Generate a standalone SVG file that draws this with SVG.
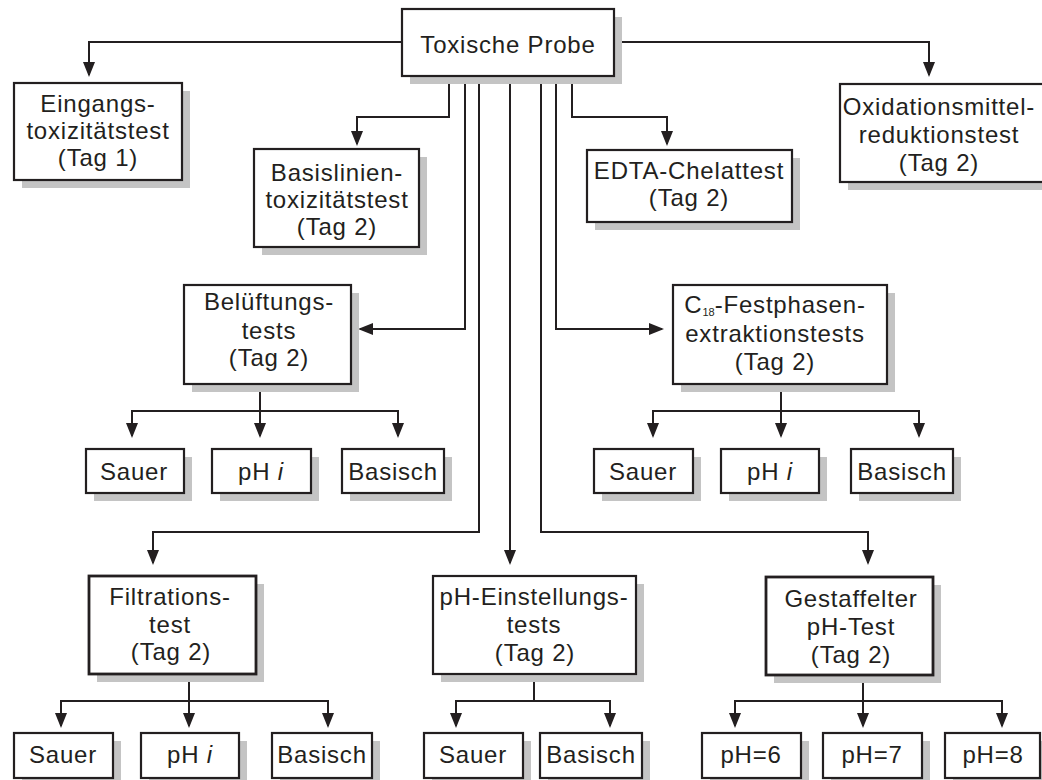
<svg xmlns="http://www.w3.org/2000/svg" width="1042" height="780" viewBox="0 0 1042 780">
<defs>
<marker id="ah" viewBox="0 0 15 12" refX="13" refY="6" markerWidth="15" markerHeight="12" markerUnits="userSpaceOnUse" orient="auto">
<path d="M0,0 L15,6 L0,12 z" fill="#231f20"/>
</marker>
</defs>
<style>
.sh{fill:#c4c4c4;stroke:none}
.bx{fill:#ffffff;stroke:#231f20;stroke-width:2.2}
.bt{stroke-width:2.8}
text{font-family:"Liberation Sans",Arial,sans-serif;font-size:24px;letter-spacing:0.8px;fill:#231f20;text-anchor:middle}
.sub{font-size:11px;letter-spacing:0}
.ln{fill:none;stroke:#231f20;stroke-width:2}
.ar{marker-end:url(#ah)}
</style>
<rect width="1042" height="780" fill="#ffffff"/>

<g id="connectors">
<path class="ln ar" d="M402,42 H89 V75"/>
<path class="ln ar" d="M614,42 H929 V75"/>
<path class="ln ar" d="M449,76 V117 H357 V144"/>
<path class="ln ar" d="M572,76 V117 H667 V144"/>
<path class="ln ar" d="M465,76 V329 H360"/>
<path class="ln ar" d="M556,76 V329 H662"/>
<path class="ln ar" d="M479,76 V532 H153 V563"/>
<path class="ln ar" d="M510,76 V563"/>
<path class="ln ar" d="M541,76 V532 H868 V563"/>
<path class="ln ar" d="M260,384 V436"/>
<path class="ln ar" d="M260,411 H132 V436"/>
<path class="ln ar" d="M260,411 H398 V436"/>
<path class="ln ar" d="M781,384 V436"/>
<path class="ln ar" d="M781,411 H653 V436"/>
<path class="ln ar" d="M781,411 H919 V436"/>
<path class="ln ar" d="M189,674 V726"/>
<path class="ln ar" d="M189,701 H61 V726"/>
<path class="ln ar" d="M189,701 H328 V726"/>
<path class="ln" d="M534,674 V701"/>
<path class="ln ar" d="M534,701 H456 V726"/>
<path class="ln ar" d="M534,701 H610 V726"/>
<path class="ln ar" d="M863,675 V726"/>
<path class="ln ar" d="M863,701 H735 V726"/>
<path class="ln ar" d="M863,701 H1002 V726"/>
</g>

<g id="toxische">
<rect class="sh" x="410" y="17" width="212" height="67"/>
<rect class="bx" x="402" y="9" width="212" height="67"/>
<text x="508" y="53">Toxische Probe</text>
</g>

<g id="eingangs">
<rect class="sh" x="22" y="91" width="168" height="97"/>
<rect class="bx" x="14" y="83" width="168" height="97"/>
<text x="98" y="112">Eingangs-</text>
<text x="98" y="139">toxizitätstest</text>
<text x="98" y="166">(Tag 1)</text>
</g>

<g id="basislinien">
<rect class="sh" x="262" y="157" width="165" height="98"/>
<rect class="bx" x="254" y="149" width="165" height="98"/>
<text x="337" y="181">Basislinien-</text>
<text x="337" y="208">toxizitätstest</text>
<text x="337" y="235">(Tag 2)</text>
</g>

<g id="edta">
<rect class="sh" x="595" y="158" width="205" height="72"/>
<rect class="bx" x="587" y="150" width="205" height="72"/>
<text x="689" y="179">EDTA-Chelattest</text>
<text x="689" y="206">(Tag 2)</text>
</g>

<g id="oxidation">
<rect class="sh" x="848" y="92" width="210" height="98"/>
<rect class="bx" x="840" y="84" width="210" height="98"/>
<text x="939" y="115">Oxidationsmittel-</text>
<text x="939" y="143">reduktionstest</text>
<text x="939" y="171">(Tag 2)</text>
</g>

<g id="belueftung">
<rect class="sh" x="192" y="293" width="167" height="99"/>
<rect class="bx" x="184" y="285" width="167" height="99"/>
<text x="269" y="310">Belüftungs-</text>
<text x="269" y="339">tests</text>
<text x="269" y="366">(Tag 2)</text>
</g>

<g id="c18">
<rect class="sh" x="681" y="293" width="214" height="99"/>
<rect class="bx" x="673" y="285" width="214" height="99"/>
<text x="775" y="313">C<tspan class="sub" dy="3">18</tspan><tspan dy="-3">-Festphasen-</tspan></text>
<text x="775" y="342">extraktionstests</text>
<text x="775" y="370">(Tag 2)</text>
</g>

<g id="bel-sauer">
<rect class="sh" x="94" y="457" width="98" height="44"/>
<rect class="bx" x="86" y="449" width="98" height="44"/>
<text x="134" y="480">Sauer</text>
</g>
<g id="bel-phi">
<rect class="sh" x="220" y="457" width="99" height="44"/>
<rect class="bx" x="212" y="449" width="99" height="44"/>
<text x="261" y="480">pH <tspan font-style="italic">i</tspan></text>
</g>
<g id="bel-basisch">
<rect class="sh" x="350" y="457" width="102" height="44"/>
<rect class="bx" x="342" y="449" width="102" height="44"/>
<text x="393" y="480">Basisch</text>
</g>

<g id="c18-sauer">
<rect class="sh" x="602" y="457" width="99" height="44"/>
<rect class="bx" x="594" y="449" width="99" height="44"/>
<text x="643" y="480">Sauer</text>
</g>
<g id="c18-phi">
<rect class="sh" x="729" y="457" width="98" height="44"/>
<rect class="bx" x="721" y="449" width="98" height="44"/>
<text x="770" y="480">pH <tspan font-style="italic">i</tspan></text>
</g>
<g id="c18-basisch">
<rect class="sh" x="859" y="457" width="102" height="44"/>
<rect class="bx" x="851" y="449" width="102" height="44"/>
<text x="902" y="480">Basisch</text>
</g>

<g id="filtration">
<rect class="sh" x="97" y="584" width="167" height="98"/>
<rect class="bx bt" x="89" y="576" width="167" height="98"/>
<text x="170" y="605">Filtrations-</text>
<text x="170" y="633">test</text>
<text x="171" y="660">(Tag 2)</text>
</g>

<g id="phein">
<rect class="sh" x="441" y="584" width="203" height="98"/>
<rect class="bx" x="433" y="576" width="203" height="98"/>
<text x="534" y="605">pH-Einstellungs-</text>
<text x="534" y="633">tests</text>
<text x="535" y="661">(Tag 2)</text>
</g>

<g id="gestaffelter">
<rect class="sh" x="774" y="585" width="167" height="98"/>
<rect class="bx bt" x="766" y="577" width="167" height="98"/>
<text x="851" y="607">Gestaffelter</text>
<text x="851" y="635">pH-Test</text>
<text x="851" y="663">(Tag 2)</text>
</g>

<g id="fil-sauer">
<rect class="sh" x="22" y="741" width="99" height="45"/>
<rect class="bx" x="14" y="733" width="99" height="45"/>
<text x="63" y="763">Sauer</text>
</g>
<g id="fil-phi">
<rect class="sh" x="149" y="741" width="98" height="45"/>
<rect class="bx" x="141" y="733" width="98" height="45"/>
<text x="190" y="763">pH <tspan font-style="italic">i</tspan></text>
</g>
<g id="fil-basisch">
<rect class="sh" x="280" y="741" width="100" height="45"/>
<rect class="bx" x="272" y="733" width="100" height="45"/>
<text x="322" y="763">Basisch</text>
</g>

<g id="phe-sauer">
<rect class="sh" x="432" y="741" width="99" height="45"/>
<rect class="bx" x="424" y="733" width="99" height="45"/>
<text x="473" y="763">Sauer</text>
</g>
<g id="phe-basisch">
<rect class="sh" x="548" y="741" width="102" height="45"/>
<rect class="bx" x="540" y="733" width="102" height="45"/>
<text x="591" y="763">Basisch</text>
</g>

<g id="ph6">
<rect class="sh" x="710" y="741" width="99" height="45"/>
<rect class="bx" x="702" y="733" width="99" height="45"/>
<text x="751" y="763">pH=6</text>
</g>
<g id="ph7">
<rect class="sh" x="831" y="741" width="99" height="45"/>
<rect class="bx" x="823" y="733" width="99" height="45"/>
<text x="872" y="763">pH=7</text>
</g>
<g id="ph8">
<rect class="sh" x="953" y="741" width="95" height="45"/>
<rect class="bx" x="945" y="733" width="95" height="45"/>
<text x="993" y="763">pH=8</text>
</g>
</svg>
